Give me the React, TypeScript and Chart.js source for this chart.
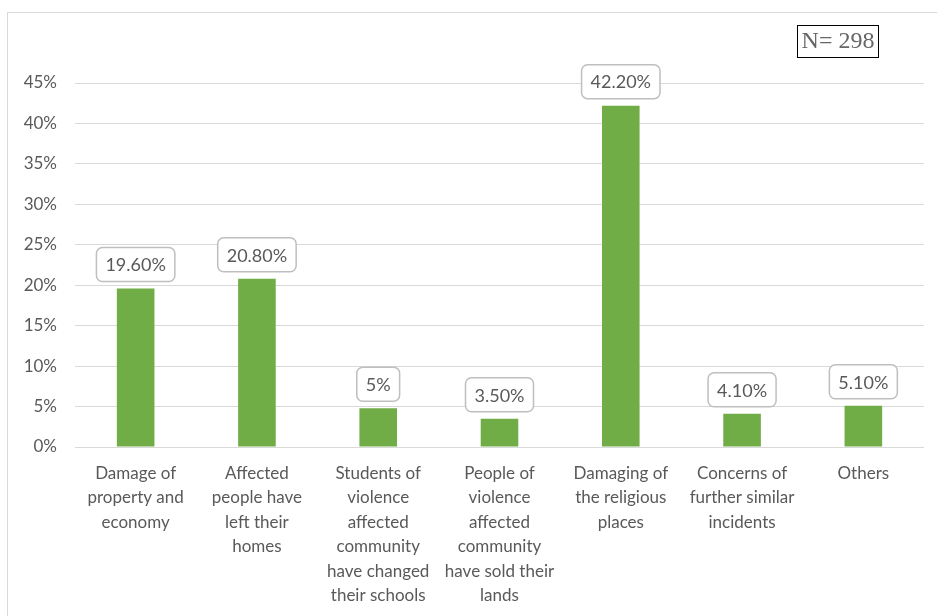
import React, { useEffect, useRef } from "react";
import { Chart, registerables } from "chart.js";

Chart.register(...registerables);

const categories: string[][] = [
  ["Damage of", "property and", "economy"],
  ["Affected", "people have", "left their", "homes"],
  ["Students of", "violence", "affected", "community", "have changed", "their schools"],
  ["People of", "violence", "affected", "community", "have sold their", "lands"],
  ["Damaging of", "the religious", "places"],
  ["Concerns of", "further similar", "incidents"],
  ["Others"],
];
const values: number[] = [19.6, 20.8, 4.8, 3.5, 42.2, 4.1, 5.1];
const valueLabels: string[] = ["19.60%", "20.80%", "5%", "3.50%", "42.20%", "4.10%", "5.10%"];
const sampleNote = "N= 298";

const FONT = "Lato, 'Open Sans', sans-serif";
const GRAY = "#595959";

const labelPlugin = {
  id: "labelBoxes",
  afterDatasetsDraw(chart: any) {
    const ctx = chart.ctx;
    const meta = chart.getDatasetMeta(0);
    ctx.save();
    ctx.font = `18px ${FONT}`;
    ctx.textAlign = "center";
    ctx.textBaseline = "middle";
    meta.data.forEach((bar: any, i: number) => {
      const text = valueLabels[i];
      const w = ctx.measureText(text).width + 18;
      const h = 34;
      const x = bar.x - w / 2;
      const y = bar.y - 7 - h;
      ctx.beginPath();
      ctx.roundRect(x, y, w, h, 6);
      ctx.fillStyle = "#ffffff";
      ctx.fill();
      ctx.lineWidth = 1.5;
      ctx.strokeStyle = "#bfbfbf";
      ctx.stroke();
      ctx.fillStyle = GRAY;
      ctx.fillText(text, bar.x, y + h / 2 + 1);
    });
    // N box
    ctx.font = "24px 'Liberation Serif', 'DejaVu Serif', serif";
    ctx.lineWidth = 1;
    ctx.strokeStyle = "#000000";
    ctx.strokeRect(797.5, 25.5, 81, 32);
    ctx.fillStyle = "#666666";
    ctx.fillText(sampleNote, 838, 42);
    ctx.restore();
  },
};

export default function App() {
  const ref = useRef<HTMLCanvasElement>(null);
  useEffect(() => {
    document.body.style.margin = "0";
    const chart = new Chart(ref.current!, {
      type: "bar",
      data: {
        labels: categories,
        datasets: [
          {
            data: values,
            backgroundColor: "#70ad47",
            barPercentage: 0.62,
            categoryPercentage: 0.5,
          },
        ],
      },
      options: {
        animation: false,
        responsive: false,
        layout: { padding: { top: 83, right: 13, left: 0, bottom: 0 } },
        plugins: { legend: { display: false }, tooltip: { enabled: false } },
        scales: {
          x: {
            grid: { display: false },
            border: { display: false },
            ticks: {
              color: GRAY,
              font: { family: FONT, size: 17, lineHeight: 1.44 },
              maxRotation: 0,
              minRotation: 0,
              autoSkip: false,
              padding: 6,
            },
            afterFit(scale: any) {
              scale.height = 169;
            },
          },
          y: {
            min: 0,
            max: 45,
            grid: { color: "#d9d9d9", drawTicks: false, lineWidth: 1 },
            border: { display: false },
            ticks: {
              stepSize: 5,
              color: GRAY,
              font: { family: FONT, size: 17 },
              padding: 18,
              callback: (v: any) => `${v}%`,
            },
            afterFit(scale: any) {
              scale.width = 75;
            },
          },
        },
      },
      plugins: [labelPlugin],
    });
    return () => chart.destroy();
  }, []);
  return (
    <div style={{ position: "relative", width: 937, height: 616, overflow: "hidden", background: "#fff" }}>
      <div
        style={{
          position: "absolute",
          left: 7,
          top: 12,
          width: 940,
          height: 620,
          border: "1px solid #d9d9d9",
        }}
      />
      <canvas ref={ref} width={937} height={616} style={{ position: "absolute", left: 0, top: 0 }} />
    </div>
  );
}
